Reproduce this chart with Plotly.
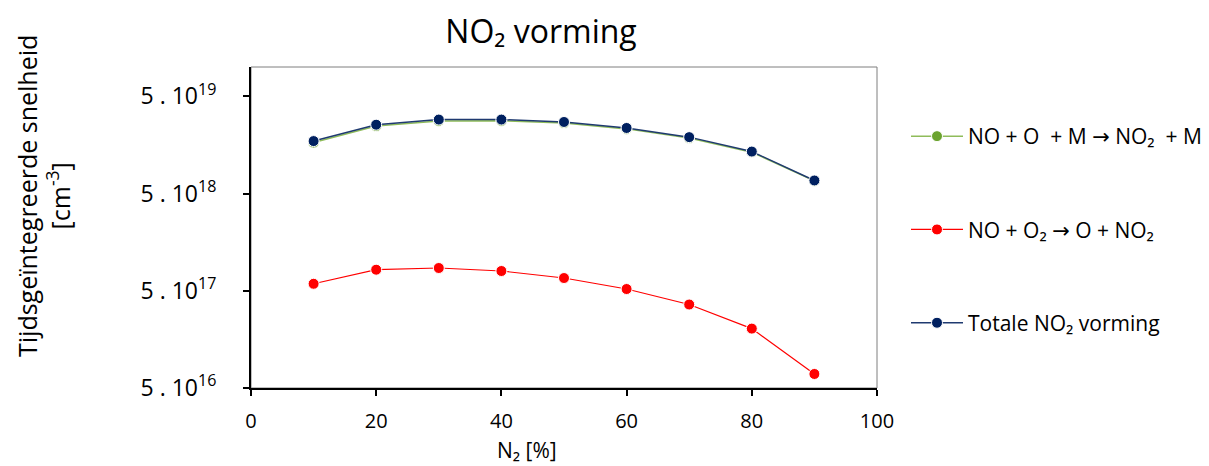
import plotly.graph_objects as go
import numpy as np

n2_percent = [10, 20, 30, 40, 50, 60, 70, 80, 90]
totaal = [1.73e19, 2.55e19, 2.88e19, 2.88e19, 2.72e19, 2.36e19, 1.90e19, 1.35e19, 6.81e18]
reactie_o2 = [5.90e17, 8.23e17, 8.57e17, 7.98e17, 6.76e17, 5.21e17, 3.61e17, 2.04e17, 6.97e16]
reactie_m = [1.67e19, 2.47e19, 2.79e19, 2.80e19, 2.65e19, 2.31e19, 1.86e19, 1.33e19, 6.74e18]

ARROW = '<span style="font-family:DejaVu Sans">\u2192</span>'
names = ["NO + O  + M " + ARROW + " NO\u2082  + M",
         "NO + O\u2082 " + ARROW + " O + NO\u2082",
         "Totale NO\u2082 vorming"]
ytick_vals = [5e16, 5e17, 5e18, 5e19]
ytick_text = ["5 . 10<sup>16</sup>", "5 . 10<sup>17</sup>", "5 . 10<sup>18</sup>", "5 . 10<sup>19</sup>"]
xtick_vals = [0, 20, 40, 60, 80, 100]

FONT = "Open Sans"
L, R, T, B = 251, 877, 67, 388
PW, PH = R - L, B - T

fig = go.Figure()
fig.add_trace(go.Scatter(x=n2_percent, y=reactie_m, name=names[0], mode="lines+markers",
                         line=dict(color="#8FBC5A", width=1.5),
                         marker=dict(color="#6BA32E", size=11, line=dict(color="white", width=1)),
                         legendgroup="a"))
fig.add_trace(go.Scatter(x=n2_percent, y=reactie_o2, name=names[1], mode="lines+markers",
                         line=dict(color="#FF0000", width=1.2),
                         marker=dict(color="#FF0000", size=11, line=dict(color="white", width=1)),
                         legendgroup="b"))
fig.add_trace(go.Scatter(x=n2_percent, y=totaal, name=names[2], mode="lines+markers",
                         line=dict(color="#1F3A70", width=1.5),
                         marker=dict(color="#002060", size=11, line=dict(color="white", width=1)),
                         legendgroup="c"))

fig.update_layout(
    width=1209, height=466,
    margin=dict(l=L, r=1209 - R, t=T, b=466 - B, autoexpand=False),
    paper_bgcolor="white", plot_bgcolor="white",
    font=dict(family=FONT, color="black"),
    title=dict(text="NO\u2082 vorming", x=541/1209, xanchor="center", xref="container",
               y=1 - 32/466, yanchor="middle", yref="container",
               font=dict(size=32, family=FONT, color="black")),
    showlegend=True,
    legend=dict(x=(906 - L)/PW, xanchor="left", y=(B - 116)/PH, yanchor="top", tracegroupgap=63,
                itemwidth=52,
                font=dict(size=21, family=FONT, color="black"), bgcolor="rgba(0,0,0,0)"),
    shapes=[dict(type="rect", xref="paper", yref="paper", x0=0, x1=1, y0=0, y1=1,
                 line=dict(color="#7F7F7F", width=1), layer="below")],
    annotations=[
        dict(text="Tijdsgeïntegreerde snelheid<br>[cm<sup>-3</sup>]", textangle=-90,
             xref="paper", yref="paper", x=(43 - L)/PW, y=(B - 196)/PH,
             xanchor="center", yanchor="middle", showarrow=False,
             font=dict(size=25, family=FONT, color="black")),
        dict(text="N\u2082 [%]", xref="paper", yref="paper", x=(527 - L)/PW, y=(B - 450)/PH,
             xanchor="center", yanchor="middle", showarrow=False,
             font=dict(size=21, family=FONT, color="black")),
    ],
)
fig.update_xaxes(range=[0, 100], tickvals=xtick_vals, ticks="outside", ticklen=6, tickwidth=2,
                 tickcolor="black", showline=True, linecolor="black", linewidth=2,
                 showgrid=False, zeroline=False, tickfont=dict(size=20, family=FONT),
                 ticklabelstandoff=8)
fig.update_yaxes(type="log", range=[np.log10(5e16), 20.0], tickvals=ytick_vals, ticktext=ytick_text,
                 ticks="outside", ticklen=6, tickwidth=2, tickcolor="black", showline=True,
                 linecolor="black", linewidth=2, showgrid=False, zeroline=False,
                 tickfont=dict(size=23, family=FONT), ticklabelstandoff=22)

fig.write_html("out.html")
